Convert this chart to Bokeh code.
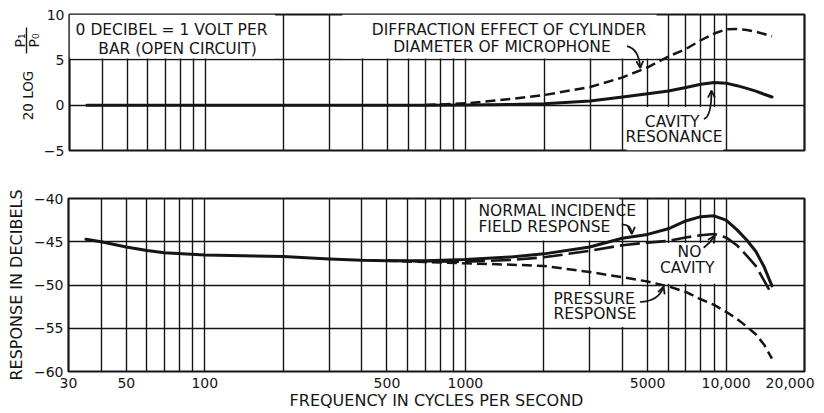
import math
from bokeh.plotting import figure
from bokeh.layouts import column, row
from bokeh.models import Range1d, FixedTicker, Label, Arrow, OpenHead
from bokeh.core.properties import value
from bokeh.embed import file_html
from bokeh.resources import INLINE

FONT = "DejaVu Sans"
INK = "#151515"

# ---------------- data ----------------
# upper panel: 20 log (P1/P0), dB
top_cavity_freq = [35, 100, 300, 700, 1000, 1500, 2000, 3000, 4000, 5000, 6000,
                   7000, 8000, 9000, 10000, 11000, 12000, 13000, 14000, 15000]
top_cavity_db = [0, 0, 0, 0, 0.02, 0.08, 0.15, 0.45, 0.9, 1.27, 1.57,
                 1.94, 2.3, 2.5, 2.43, 2.15, 1.85, 1.55, 1.2, 0.9]
top_diffraction_freq = [700, 1000, 1500, 2000, 3000, 4000, 5000, 6000, 7000,
                        8000, 9000, 10000, 11000, 12000, 13000, 14000, 15000]
top_diffraction_db = [0.02, 0.2, 0.7, 1.12, 2.0, 3.06, 4.18, 5.37, 6.2,
                      7.16, 7.9, 8.36, 8.4, 8.3, 8.1, 7.85, 7.6]

# lower panel: response in decibels
field_freq = [35, 40, 50, 60, 70, 100, 200, 300, 400, 500, 700, 1000, 1500, 2000,
              3000, 4000, 5000, 6000, 7000, 8000, 9000, 10000, 11000, 12000,
              13000, 14000, 15000]
field_db = [-44.7, -45.0, -45.6, -46.0, -46.28, -46.54, -46.7, -47.0, -47.15, -47.2,
            -47.2, -47.05, -46.75, -46.4, -45.6, -44.6, -44.15, -43.5, -42.6, -42.1,
            -42.0, -42.5, -43.6, -44.8, -46.1, -47.9, -50.1]
no_cavity_freq = [500, 700, 1000, 1500, 2000, 3000, 4000, 5000, 6000, 7000, 8000,
                  9000, 10000, 11000, 12000, 13000, 14000, 14800]
no_cavity_db = [-47.2, -47.25, -47.3, -47.1, -46.8, -46.05, -45.4, -45.1, -44.9,
                -44.5, -44.25, -44.1, -44.5, -45.4, -46.6, -47.8, -49.5, -50.8]
pressure_freq = [500, 700, 1000, 1500, 2000, 3000, 4000, 5000, 6000, 7000, 8000,
                 9000, 10000, 11000, 12000, 13000, 14000, 15000]
pressure_db = [-47.2, -47.35, -47.5, -47.65, -47.8, -48.5, -49.1, -49.6, -50.15,
               -50.8, -51.65, -52.3, -53.1, -53.9, -54.8, -55.7, -56.9, -58.5]

# axes
grid_freq = [40, 50, 60, 70, 80, 90, 100, 200, 300, 400, 500, 600, 700, 800, 900,
             1000, 2000, 3000, 4000, 5000, 6000, 7000, 8000, 9000, 10000]
x_tick_freq = [30, 50, 100, 500, 1000, 5000, 10000, 20000]
x_tick_text = ["30", "50", "100", "500", "1000", "5000", "10,000", "20,000"]
top_y_ticks = [-5, 0, 5, 10]
top_y_text = ["\u22125", "0", "5", "10"]
top_y_grid = [0, 5]
bottom_y_ticks = [-60, -55, -50, -45, -40]
bottom_y_text = ["\u221260", "\u221255", "\u221250", "\u221245", "\u221240"]
bottom_y_grid = [-55, -50, -45]
top_y_title = "20 LOG"
top_y_fraction = ["P\u2081", "P\u2080"]
bottom_y_title = "RESPONSE IN DECIBELS"
x_title = "FREQUENCY IN CYCLES PER SECOND"

# ---------------- layout (pixels) ----------------
TOTAL_W = 823
TOP_STRIP_W = 40
FRAME_LEFT = 68
FRAME_RIGHT_GAP = 19
TOP_H = 174
TOP_B_TOP = 14
TOP_B_BOTTOM = 24
TOP_FRAME_H = TOP_H - TOP_B_TOP - TOP_B_BOTTOM
BOT_H = 238


def panel(width, height, y_lo, y_hi, y_ticks, y_text, y_grid, b_left, b_top, b_bottom, x_axis):
    p = figure(width=width, height=height, x_axis_type="log",
               x_range=Range1d(30, 20000), y_range=Range1d(y_lo, y_hi),
               x_axis_location="below" if x_axis else None,
               output_backend="svg", toolbar_location=None,
               min_border_left=b_left, min_border_right=FRAME_RIGHT_GAP,
               min_border_top=b_top, min_border_bottom=b_bottom)
    p.outline_line_color = INK
    p.outline_line_width = 2.2
    p.background_fill_color = "white"
    p.border_fill_color = "white"
    p.xgrid.ticker = FixedTicker(ticks=grid_freq)
    p.ygrid.ticker = FixedTicker(ticks=y_grid)
    for g in (p.xgrid, p.ygrid):
        g.grid_line_color = INK
        g.grid_line_width = 1.4
        g.minor_grid_line_color = None
    ax = p.yaxis
    ax.ticker = FixedTicker(ticks=y_ticks)
    ax.major_label_overrides = dict(zip(y_ticks, y_text))
    ax.axis_line_color = None
    ax.major_tick_line_color = None
    ax.minor_tick_line_color = None
    ax.major_tick_out = 0
    ax.major_tick_in = 0
    ax.minor_tick_out = 0
    ax.minor_tick_in = 0
    ax.major_label_standoff = 5
    ax.major_label_text_font = FONT
    ax.major_label_text_font_size = "14px"
    ax.major_label_text_color = INK
    return p


def mask(p, left, right, bottom, top):
    p.quad(left=[left], right=[right], bottom=[bottom], top=[top],
           fill_color="white", line_color=None)


def note(p, text, f, db, align="center", size="15.5px"):
    p.add_layout(Label(x=f, y=db, text=text, text_align=align,
                       text_baseline="middle", text_font=FONT,
                       text_font_size=size, text_color=INK))


def pointer(p, x0, y0, cx, cy, x1, y1):
    p.quadratic(x0=[x0], y0=[y0], x1=[x1], y1=[y1], cx=[cx], cy=[cy],
                line_color=INK, line_width=1.8)
    p.add_layout(Arrow(x_start=cx, y_start=cy, x_end=x1, y_end=y1,
                       line_alpha=0, line_width=0.5,
                       end=OpenHead(size=7, line_color=INK, line_width=1.8)))


# ---------------- strip with the upper y title (20 LOG P1/P0) ----------------
# its frame has the same vertical extent as the upper panel's frame
top_strip = figure(width=TOP_STRIP_W, height=TOP_H, x_range=Range1d(0, TOP_STRIP_W),
                   y_range=Range1d(0, TOP_FRAME_H), x_axis_location=None,
                   y_axis_location=None, output_backend="svg", toolbar_location=None,
                   min_border_left=0, min_border_right=0, min_border_top=TOP_B_TOP,
                   min_border_bottom=TOP_B_BOTTOM, outline_line_color=None)
top_strip.grid.visible = False
top_strip.text(x=[27.5], y=[55], text=[top_y_title], angle=math.pi / 2,
               text_align="center", text_baseline="middle", text_font=value(FONT),
               text_font_size=value("13.5px"), text_color=INK)
top_strip.text(x=[19, 33], y=[110, 110], text=top_y_fraction, angle=math.pi / 2,
               text_align="center", text_baseline="middle", text_font=value(FONT),
               text_font_size=value("14px"), text_color=INK)
top_strip.segment(x0=[26], y0=[97], x1=[26], y1=[123], line_color=INK,
                  line_width=1.4)

# ---------------- upper panel ----------------
top = panel(TOTAL_W - TOP_STRIP_W, TOP_H, -5, 10, top_y_ticks, top_y_text, top_y_grid,
            FRAME_LEFT - TOP_STRIP_W, TOP_B_TOP, TOP_B_BOTTOM, False)
mask(top, 30, 185, 5.15, 10)
mask(top, 335, 5400, 5.15, 10)
mask(top, 4150, 9750, -5, -0.2)
top.line(top_cavity_freq, top_cavity_db, line_color=INK, line_width=3,
         line_cap="round", line_join="round")
top.line(top_diffraction_freq, top_diffraction_db, line_color=INK, line_width=2.5,
         line_dash="10 5")
note(top, "0 DECIBEL = 1 VOLT PER", 74, 8.25)
note(top, "BAR (OPEN CIRCUIT)", 78, 6.25)
note(top, "DIFFRACTION EFFECT OF CYLINDER", 1464, 8.3)
note(top, "DIAMETER OF MICROPHONE", 1376, 6.45)
note(top, "CAVITY", 6200, -1.9)
note(top, "RESONANCE", 6300, -3.5)
pointer(top, 4160, 6.5, 4620, 6.2, 4680, 4.1)
pointer(top, 8210, -1.5, 8780, -1.3, 8780, 1.6)

# ---------------- lower panel ----------------
bot = panel(TOTAL_W, BOT_H, -60, -40, bottom_y_ticks, bottom_y_text,
            bottom_y_grid, FRAME_LEFT, 24, 37, True)
ya = bot.yaxis
ya.axis_label = bottom_y_title
ya.axis_label_standoff = 5
ya.axis_label_text_font = FONT
ya.axis_label_text_font_size = "16px"
ya.axis_label_text_font_style = "normal"
ya.axis_label_text_color = INK

xa = bot.xaxis
xa.ticker = FixedTicker(ticks=x_tick_freq)
# the last label is padded with no-break spaces so that it sits a little left of its line
labels = list(x_tick_text)
labels[-1] = labels[-1] + "\u00a0" * 2
xa.major_label_overrides = dict(zip(x_tick_freq, labels))
xa.axis_line_color = None
xa.major_tick_line_color = None
xa.minor_tick_line_color = None
xa.major_tick_out = 0
xa.major_tick_in = 0
xa.minor_tick_out = 0
xa.minor_tick_in = 0
xa.major_label_standoff = 3
xa.major_label_text_font = FONT
xa.major_label_text_font_size = "14px"
xa.major_label_text_color = INK
xa.axis_label = x_title
xa.axis_label_standoff = -3
xa.axis_label_text_font = FONT
xa.axis_label_text_font_size = "16px"
xa.axis_label_text_font_style = "normal"
xa.axis_label_text_color = INK

mask(bot, 1050, 3900, -44.85, -40)
mask(bot, 5200, 9750, -49.85, -45.15)
mask(bot, 2050, 4750, -54.85, -50.15)
bot.line(field_freq, field_db, line_color=INK, line_width=3,
         line_cap="round", line_join="round")
bot.line(no_cavity_freq, no_cavity_db, line_color=INK, line_width=2.6,
         line_dash="20 6")
bot.line(pressure_freq, pressure_db, line_color=INK, line_width=2.5,
         line_dash="10 5")
note(bot, "NORMAL INCIDENCE", 1122, -41.5, align="left")
note(bot, "FIELD RESPONSE", 1122, -43.3, align="left")
note(bot, "NO", 7240, -46.15)
note(bot, "CAVITY", 7100, -48.0)
note(bot, "PRESSURE", 2176, -51.57, align="left")
note(bot, "RESPONSE", 2176, -53.35, align="left")
pointer(bot, 3980, -43.0, 4330, -43.0, 4350, -44.1)
pointer(bot, 8210, -45.7, 8700, -45.1, 9050, -44.3)
pointer(bot, 4680, -51.95, 5510, -51.9, 5760, -50.2)

layout = column(row(top_strip, top), bot)
open("out.html", "w").write(file_html(layout, INLINE))
